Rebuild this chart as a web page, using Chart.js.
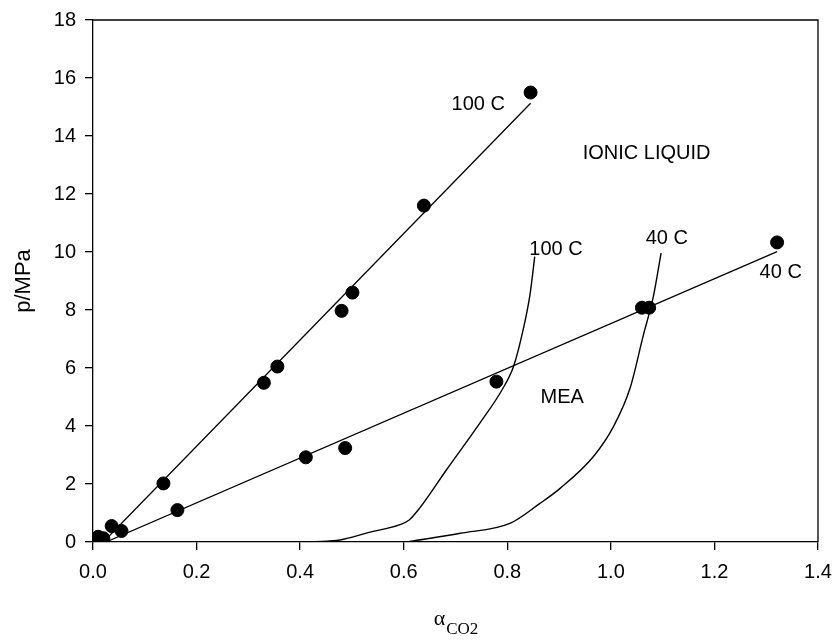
<!DOCTYPE html>
<html>
<head>
<meta charset="utf-8">
<script src="https://cdn.jsdelivr.net/npm/chart.js@4.4.1/dist/chart.umd.min.js"></script>
<style>
  html, body { margin:0; padding:0; background:#fff; }
  #wrap { width:838px; height:640px; }
</style>
</head>
<body>
<div id="wrap"><canvas id="c" width="838" height="640"></canvas></div>
<script>
// ionic liquid measurements
const il100X = [0.010, 0.036, 0.136, 0.330, 0.356, 0.480, 0.501, 0.639, 0.845];
const il100Y = [0.18, 0.55, 2.02, 5.49, 6.05, 7.97, 8.60, 11.60, 15.50];
const il40X  = [0.020, 0.055, 0.163, 0.411, 0.487, 0.779, 1.060, 1.074, 1.321];
const il40Y  = [0.13, 0.38, 1.10, 2.92, 3.24, 5.53, 8.08, 8.08, 10.33];

// fitted lines
const fit100X = [0.020, 0.845];
const fit100Y = [0.00, 15.13];
const fit40X  = [0.025, 1.321];
const fit40Y  = [0.00, 10.01];

// MEA curves
const mea100X = [0.422, 0.477, 0.535, 0.590, 0.610, 0.630, 0.683, 0.747, 0.790, 0.812, 0.831, 0.844, 0.853];
const mea100Y = [0.01, 0.07, 0.34, 0.58, 0.75, 1.15, 2.50, 4.10, 5.25, 6.05, 7.35, 8.55, 9.84];
const mea40X  = [0.609, 0.709, 0.805, 0.863, 0.902, 0.966, 1.005, 1.037, 1.063, 1.082, 1.097];
const mea40Y  = [0.01, 0.30, 0.64, 1.33, 1.85, 2.94, 3.98, 5.30, 7.15, 8.46, 9.96];

const xTicks = [0, 0.2, 0.4, 0.6, 0.8, 1.0, 1.2, 1.4];
const yTicks = [0, 2, 4, 6, 8, 10, 12, 14, 16, 18];

const noteText = ["100 C", "IONIC LIQUID", "100 C", "40 C", "40 C", "MEA"];
const noteX    = [0.744, 1.069, 0.894, 1.108, 1.328, 0.906];
const noteY    = [15.07, 13.41, 10.07, 10.45, 9.28, 4.97];

const pts = (xs, ys) => xs.map((x, i) => ({ x, y: ys[i] }));

const SANS = "'Liberation Sans', Arial, sans-serif";
const SERIF = "'Liberation Serif', 'Times New Roman', serif";

const extras = {
  id: "extras",
  afterDraw(chart) {
    const { ctx, chartArea: a, scales: { x, y } } = chart;
    ctx.save();
    // frame top / right
    ctx.strokeStyle = "#000"; ctx.lineWidth = 1.3;
    ctx.beginPath();
    ctx.moveTo(a.left, a.top); ctx.lineTo(a.right, a.top); ctx.lineTo(a.right, a.bottom);
    ctx.stroke();
    // annotations
    ctx.fillStyle = "#000";
    ctx.font = "20px " + SANS;
    ctx.textAlign = "center"; ctx.textBaseline = "middle";
    noteText.forEach((t, i) => ctx.fillText(t, x.getPixelForValue(noteX[i]), y.getPixelForValue(noteY[i])));
    // x title: alpha with subscript CO2
    ctx.textAlign = "left"; ctx.textBaseline = "alphabetic";
    ctx.font = "22px " + SERIF;
    const aw = ctx.measureText("\u03b1").width;
    ctx.font = "17px " + SERIF;
    const sw = ctx.measureText("CO2").width;
    const cx = (a.left + a.right) / 2;
    const x0 = cx - (aw + sw) / 2;
    ctx.font = "22px " + SERIF;
    ctx.fillText("\u03b1", x0, 625);
    ctx.font = "17px " + SERIF;
    ctx.fillText("CO2", x0 + aw + 1, 634);
    ctx.restore();
  }
};

new Chart(document.getElementById("c"), {
  type: "scatter",
  data: {
    datasets: [
      { data: pts(fit100X, fit100Y), showLine: true, borderColor: "#000", borderWidth: 1.3, pointRadius: 0 },
      { data: pts(fit40X, fit40Y), showLine: true, borderColor: "#000", borderWidth: 1.3, pointRadius: 0 },
      { data: pts(mea100X, mea100Y), showLine: true, borderColor: "#000", borderWidth: 1.4, pointRadius: 0, cubicInterpolationMode: "monotone" },
      { data: pts(mea40X, mea40Y), showLine: true, borderColor: "#000", borderWidth: 1.4, pointRadius: 0, cubicInterpolationMode: "monotone" },
      { data: pts(il100X, il100Y), showLine: false, pointRadius: 6.5, backgroundColor: "#000", borderColor: "#000", borderWidth: 1 },
      { data: pts(il40X, il40Y), showLine: false, pointRadius: 6.5, backgroundColor: "#000", borderColor: "#000", borderWidth: 1 },
    ]
  },
  options: {
    responsive: false, animation: false,
    layout: { padding: { top: 20, right: 20, left: 0, bottom: 0 } },
    plugins: { legend: { display: false }, tooltip: { enabled: false } },
    scales: {
      x: {
        type: "linear", min: 0, max: 1.4,
        afterBuildTicks: s => { s.ticks = xTicks.map(v => ({ value: v })); },
        afterFit: s => { s.height = 98; s.paddingLeft = 0; s.paddingRight = 0; },
        grid: { drawOnChartArea: false, tickLength: 8, color: "#000", lineWidth: 1.3 },
        border: { display: true, color: "#000", width: 1.3 },
        ticks: { color: "#000", font: { family: SANS, size: 20 }, padding: 10, maxRotation: 0,
          callback: v => v.toFixed(1) },
      },
      y: {
        type: "linear", min: 0, max: 18,
        afterBuildTicks: s => { s.ticks = yTicks.map(v => ({ value: v })); },
        afterFit: s => { s.width = 93; s.paddingTop = 0; s.paddingBottom = 0; },
        grid: { drawOnChartArea: false, tickLength: 8, color: "#000", lineWidth: 1.3 },
        border: { display: true, color: "#000", width: 1.3 },
        ticks: { color: "#000", font: { family: SANS, size: 20 }, padding: 9 },
        title: { display: true, text: "p/MPa", color: "#000", font: { family: SANS, size: 22 }, padding: { top: 11, bottom: 0 } },
      }
    }
  },
  plugins: [extras]
});
</script>
</body>
</html>
